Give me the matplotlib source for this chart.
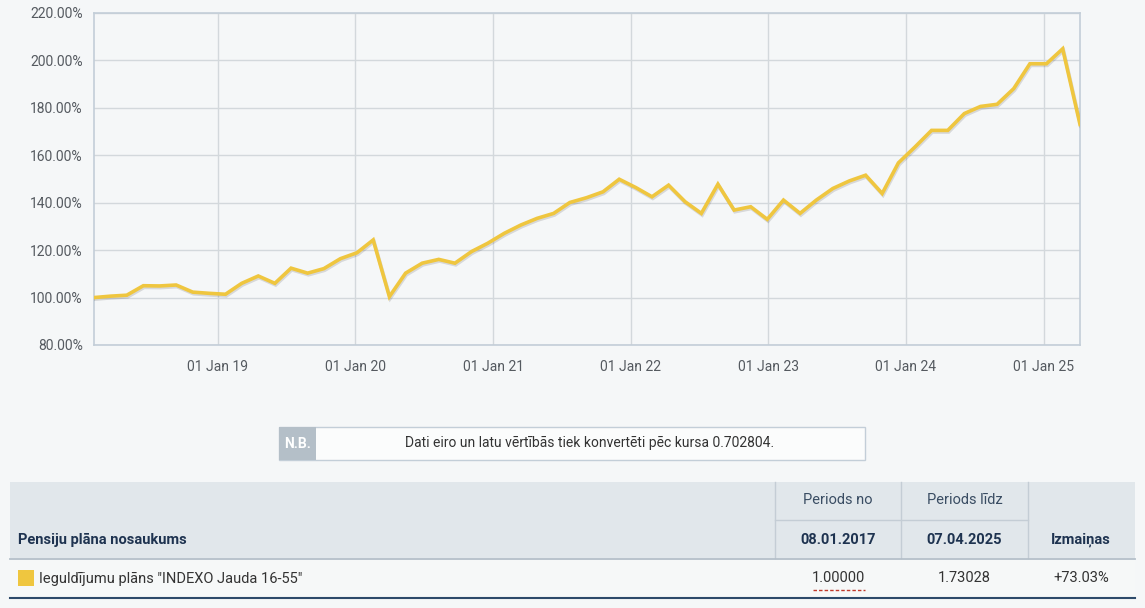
import matplotlib
matplotlib.use("Agg")
import matplotlib.pyplot as plt
import matplotlib.dates as mdates
import matplotlib.patheffects as pe
from matplotlib.patches import Rectangle
import pandas as pd

plt.rcParams['font.family'] = ['Roboto', 'DejaVu Sans']

# data (value in % of start)
dates = [
    "2018-02-06", "2018-03-22", "2018-05-04", "2018-06-17", "2018-07-30", "2018-09-12",
    "2018-10-26", "2018-12-08", "2019-01-21", "2019-03-05", "2019-04-18", "2019-06-01",
    "2019-07-14", "2019-08-27", "2019-10-09", "2019-11-22", "2020-01-05", "2020-02-17",
    "2020-03-31", "2020-05-13", "2020-06-26", "2020-08-09", "2020-09-21", "2020-11-04",
    "2020-12-17", "2021-01-30", "2021-03-15", "2021-04-27", "2021-06-10", "2021-07-23",
    "2021-09-05", "2021-10-19", "2021-12-01", "2022-01-14", "2022-02-26", "2022-04-11",
    "2022-05-25", "2022-07-07", "2022-08-20", "2022-10-02", "2022-11-15", "2022-12-29",
    "2023-02-10", "2023-03-26", "2023-05-08", "2023-06-21", "2023-08-04", "2023-09-16",
    "2023-10-30", "2023-12-12", "2024-01-25", "2024-03-09", "2024-04-21", "2024-06-04",
    "2024-07-17", "2024-08-30", "2024-10-13", "2024-11-25", "2025-01-08", "2025-02-20",
    "2025-04-07",
]
values = [
    100.0, 100.6, 101.0, 105.0, 104.9, 105.3, 102.3, 101.8, 101.4, 106.0, 109.1, 106.0,
    112.4, 110.3, 112.2, 116.4, 118.9, 124.3, 100.4, 110.3, 114.5, 116.1, 114.5, 119.4,
    122.9, 127.1, 130.6, 133.4, 135.5, 140.1, 142.1, 144.6, 149.9, 146.4, 142.5, 147.4,
    140.4, 135.5, 147.8, 136.9, 138.3, 133.0, 141.1, 135.5, 141.1, 146.0, 149.2, 151.6,
    143.9, 156.8, 163.5, 170.5, 170.5, 177.6, 180.6, 181.5, 188.1, 198.6, 198.6, 204.9,
    173.03,
]
y_ticks = [80, 100, 120, 140, 160, 180, 200, 220]

note_label = "N.B."
note_text = "Dati eiro un latu vērtībās tiek konvertēti pēc kursa 0.702804."
col_name = "Pensiju plāna nosaukums"
col_from = "Periods no"
col_to = "Periods līdz"
col_change = "Izmaiņas"
date_from = "08.01.2017"
date_to = "07.04.2025"
plan_name = 'Ieguldījumu plāns "INDEXO Jauda 16-55"'
val_from = "1.00000"
val_to = "1.73028"
val_change = "+73.03%"

BG = "#f5f7f8"
LINE = "#efc63f"
GRID = "#d3d8dc"
FRAME = "#c3ced8"
NAVY = "#1e3350"

W, H = 1145, 608
fig = plt.figure(figsize=(W / 100, H / 100), dpi=100, facecolor=BG)

# --- line chart ---
ax = fig.add_axes([94 / W, 1 - 345 / H, 986 / W, 332 / H], facecolor=BG)
x = pd.to_datetime(dates)
ax.plot(x, values, color=LINE, lw=2.6, solid_joinstyle="miter", zorder=3,
        path_effects=[pe.SimpleLineShadow(offset=(0.6, -1.2), shadow_color="#000000", alpha=0.12),
                      pe.Normal()])
ax.set_xlim(x[0], x[-1])
ax.set_ylim(80, 220)
ax.set_yticks(y_ticks)
ax.set_yticklabels([f"{v:.2f}%" for v in y_ticks])
ax.xaxis.set_major_locator(mdates.YearLocator(month=1, day=1))
ax.xaxis.set_major_formatter(mdates.DateFormatter("01 Jan %y"))
ax.grid(True, color=GRID, lw=1)
ax.set_axisbelow(True)
for s in ax.spines.values():
    s.set_color(FRAME)
    s.set_linewidth(1.2)
ax.tick_params(length=0, labelsize=10, colors="#555a60", pad=8)
ax.tick_params(axis="x", pad=11)

# --- note box and table drawn in pixel coordinates ---
ov = fig.add_axes([0, 0, 1, 1], facecolor="none")
ov.set_xlim(0, W)
ov.set_ylim(H, 0)
ov.axis("off")

ov.add_patch(Rectangle((279, 427), 586, 33, facecolor="#fbfcfc", edgecolor=FRAME, lw=1))
ov.add_patch(Rectangle((279, 427), 37, 33, facecolor="#b4bfc8", edgecolor="none"))
ov.text(297.5, 443.5, note_label, color="white", fontsize=10, fontweight="bold",
        ha="center", va="center")
ov.text(590, 443.5, note_text, color="#333", fontsize=10, ha="center", va="center")

# header
ov.add_patch(Rectangle((10, 482), 1125, 76, facecolor="#e1e7eb", edgecolor="none"))
for vx in (775, 901, 1028):
    ov.plot([vx, vx], [482, 558], color="#c4cdd5", lw=1)
ov.plot([775, 1028], [520, 520], color="#c4cdd5", lw=1)
ov.plot([10, 1135], [558.5, 558.5], color="#b4bfc9", lw=1.3)
ov.add_patch(Rectangle((10, 559), 1125, 39, facecolor="#f6f8f8", edgecolor="none"))
ov.plot([10, 1135], [598, 598], color="#2d4a6a", lw=1.5)

ov.text(18, 540, col_name, color=NAVY, fontsize=10.5, fontweight="bold", va="center")
ov.text(838, 500, col_from, color="#3a4d63", fontsize=10.5, ha="center", va="center")
ov.text(964.5, 500, col_to, color="#3a4d63", fontsize=10.5, ha="center", va="center")
ov.text(838, 540, date_from, color=NAVY, fontsize=10.5, fontweight="bold", ha="center", va="center")
ov.text(964.5, 540, date_to, color=NAVY, fontsize=10.5, fontweight="bold", ha="center", va="center")
ov.text(1081, 540, col_change, color=NAVY, fontsize=10.5, fontweight="bold", ha="center", va="center")

# row
ov.add_patch(Rectangle((18, 570), 16, 16, facecolor=LINE, edgecolor="none"))
ov.text(39, 578.5, plan_name, color="#333", fontsize=10.5, va="center")
ov.text(838, 578.5, val_from, color="#333", fontsize=10.5, ha="center", va="center")
ov.plot([813, 865], [590, 590], color="#c0392b", lw=1, ls=(0, (2.5, 1.5)))
ov.text(964.5, 578.5, val_to, color="#333", fontsize=10.5, ha="center", va="center")
ov.text(1081, 578.5, val_change, color="#333", fontsize=10.5, ha="center", va="center")

fig.savefig("out.png", dpi=100, facecolor=BG)
